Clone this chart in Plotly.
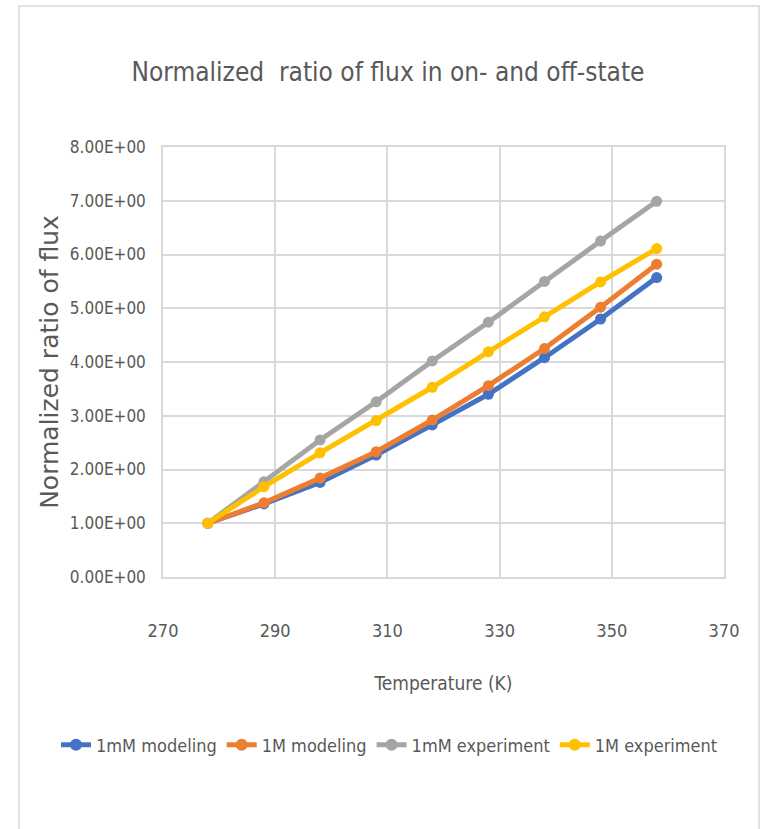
import plotly.graph_objects as go

# Temperatures (K) and normalized flux ratios for each series
temperature = [278, 288, 298, 308, 318, 328, 338, 348, 358]
mm1_modeling = [1.00, 1.36, 1.76, 2.27, 2.83, 3.40, 4.08, 4.80, 5.57]
m1_modeling = [1.00, 1.38, 1.84, 2.33, 2.92, 3.56, 4.25, 5.02, 5.82]
mm1_experiment = [1.00, 1.77, 2.55, 3.26, 4.02, 4.74, 5.50, 6.25, 6.99]
m1_experiment = [1.00, 1.68, 2.31, 2.91, 3.53, 4.19, 4.84, 5.49, 6.11]

series_names = ["1mM modeling", "1M modeling", "1mM experiment", "1M experiment"]
series_values = [mm1_modeling, m1_modeling, mm1_experiment, m1_experiment]
series_colors = ["#4472C4", "#ED7D31", "#A5A5A5", "#FFC000"]

x_ticks = [270, 290, 310, 330, 350, 370]
y_ticks = [0, 1, 2, 3, 4, 5, 6, 7, 8]
y_tick_labels = [f"{v:.2E}" for v in y_ticks]

narrow = "DejaVu Sans Condensed, Roboto Condensed, Liberation Sans Narrow, sans-serif"
text_color = "#595959"
grid_color = "#D9D9D9"

# plot area in pixels: left 163, right 724, top 147, bottom 577
PL, PR, PT, PB = 163, 724, 147, 577
PW, PH = PR - PL, PB - PT

fig = go.Figure()
for name, vals, color in zip(series_names, series_values, series_colors):
    fig.add_trace(go.Scatter(
        x=temperature, y=vals, name=name, mode="lines+markers",
        line=dict(color=color, width=5),
        marker=dict(color=color, size=11, symbol="circle"),
    ))

fig.update_layout(
    width=761, height=829,
    paper_bgcolor="white", plot_bgcolor="white",
    margin=dict(l=PL, r=761 - PR, t=PT, b=829 - PB),
    font=dict(family=narrow, color=text_color),
    title=dict(
        text="Normalized&nbsp;&nbsp;ratio of flux in on- and off-state",
        x=388 / 761, xanchor="center", y=1 - 72 / 829, yanchor="middle",
        font=dict(family=narrow, size=26, color=text_color),
    ),
    showlegend=True,
    legend=dict(
        orientation="h",
        x=(56 - PL) / PW, xanchor="left", y=(PB - 745) / PH, yanchor="middle",
        font=dict(family=narrow, size=18, color=text_color),
        tracegroupgap=0, itemsizing="constant",
    ),
    shapes=[dict(
        type="rect", xref="paper", yref="paper",
        x0=(19 - PL) / PW, x1=(759 - PL) / PW,
        y0=(PB - 900) / PH, y1=(PB - 6) / PH,
        line=dict(color="#D9D9D9", width=1.5), fillcolor="rgba(0,0,0,0)", layer="below",
    )],
)

fig.update_xaxes(
    range=[270, 370], tickvals=x_ticks, ticktext=[str(v) for v in x_ticks],
    showgrid=True, gridcolor=grid_color, gridwidth=1.5,
    showline=True, linecolor=grid_color, linewidth=1.5, mirror=True,
    zeroline=False,
    ticks="outside", ticklen=37, tickcolor="rgba(0,0,0,0)",
    tickfont=dict(family=narrow, size=18, color=text_color),
    title=dict(text="Temperature (K)", standoff=36,
               font=dict(family=narrow, size=19, color=text_color)),
)
fig.update_yaxes(
    range=[0, 8], tickvals=y_ticks, ticktext=y_tick_labels,
    showgrid=True, gridcolor=grid_color, gridwidth=1.5,
    showline=True, linecolor=grid_color, linewidth=1.5, mirror=True,
    zeroline=False,
    ticks="outside", ticklen=12, tickcolor="rgba(0,0,0,0)",
    tickfont=dict(family=narrow, size=17, color=text_color),
    title=dict(text="Normalized ratio of flux", standoff=4,
               font=dict(family="DejaVu Sans", size=25, color=text_color)),
)

fig.write_html("out.html")
